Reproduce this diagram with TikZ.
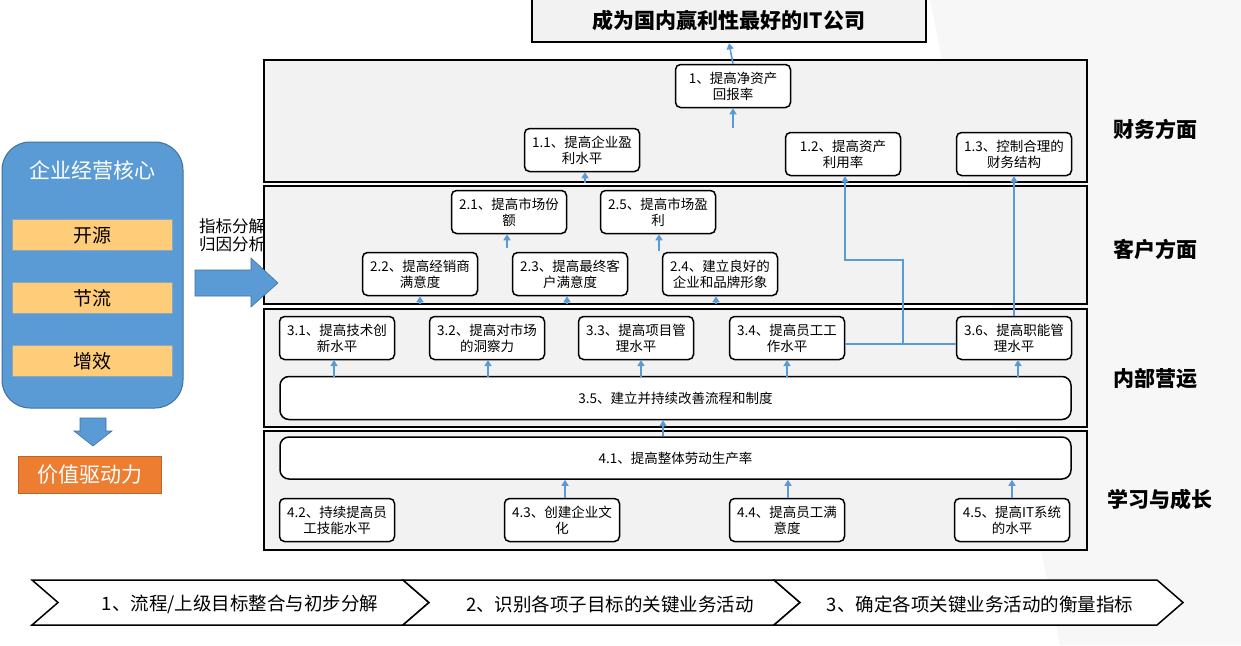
\documentclass[tikz,border=0pt]{standalone}
\usepackage{fontspec}
\setmainfont{Noto Sans CJK SC}
\usetikzlibrary{arrows.meta,calc}
\definecolor{panelgray}{HTML}{F2F2F2}
\definecolor{arrblue}{HTML}{5B9BD5}
\definecolor{coreblue}{HTML}{5B9BD5}
\definecolor{coreedge}{HTML}{41719C}
\definecolor{barorange}{HTML}{FFCC7A}
\definecolor{baredge}{HTML}{8FA6BF}
\definecolor{deeporange}{HTML}{ED7D31}
\definecolor{deepedge}{HTML}{C0652A}
\begin{document}
\begin{tikzpicture}[x=1pt,y=-1pt,
  panel/.style={draw=black,line width=2.5pt,fill=panelgray,inner sep=0pt},
  kbox/.style={draw=black,line width=1.5pt,rounded corners=5pt,fill=white,
    minimum width=115pt,minimum height=43pt,inner sep=1pt,align=center,
    font=\fontsize{13.5}{16}\selectfont},
  widebox/.style={draw=black,line width=1.5pt,rounded corners=9pt,fill=white,
    minimum width=791pt,minimum height=43pt,inner sep=0pt,
    font=\fontsize{13.5}{16}\selectfont},
  arr/.style={draw=arrblue,line width=1.6pt,-{Triangle[length=6pt,width=7pt]}},
  conn/.style={draw=arrblue,line width=1.6pt},
  sidelabel/.style={font=\fontsize{21}{24}\selectfont\bfseries},
  bar/.style={draw=baredge,line width=1pt,fill=barorange,minimum width=160pt,
    minimum height=31pt,font=\fontsize{19}{22}\selectfont},
  chev/.style={draw=black,line width=1.5pt,fill=white},
  chevtext/.style={font=\fontsize{18.5}{21}\selectfont}
]
\useasboundingbox (0,0) rectangle (1241,645);
\fill[white] (0,0) rectangle (1241,645);
\fill[gray!6] (930,0) -- (1241,0) -- (1241,645) -- (1060,645) -- cycle;

% ---- left side ----
\node[align=left,font=\fontsize{16.5}{18}\selectfont,anchor=north west,inner sep=0pt] (ana) at (199,218) {指标分解\\归因分析};

\node[draw=coreedge,line width=1pt,fill=coreblue,rounded corners=28pt,
  minimum width=181pt,minimum height=266pt] (core) at (92.5,275) {};
\node[text=white,font=\fontsize{21}{24}\selectfont] (coret) at (92,170) {企业经营核心};
\node[bar] (b1) at (92,235) {开源};
\node[bar] (b2) at (92,298) {节流};
\node[bar] (b3) at (92,361) {增效};
\node[draw=deepedge,line width=1pt,fill=deeporange,minimum width=143pt,minimum height=37pt,
  text=white,font=\fontsize{21}{24}\selectfont] (vd) at (90,475) {价值驱动力};
\fill[coreblue,draw=coreedge,line width=0.6pt] (80,418) -- (106,418) -- (106,431) -- (112,431) -- (93,446) -- (74,431) -- (80,431) -- cycle;

% ---- panels ----
\node[panel,minimum width=823pt,minimum height=122pt] (pfin) at (675.5,121) {};
\node[panel,minimum width=823pt,minimum height=118pt] (pcus) at (675.5,245) {};
\node[panel,minimum width=823pt,minimum height=118pt] (pint) at (675.5,368) {};
\node[panel,minimum width=823pt,minimum height=119pt] (plrn) at (675.5,490.5) {};

% block arrow right
\fill[coreblue,draw=coreedge,line width=0.6pt] (195,270) -- (251,270) -- (251,258) -- (278,283) -- (251,307) -- (251,296) -- (195,296) -- cycle;

% ---- title ----
\node[draw=black,line width=2.5pt,fill=panelgray,minimum width=394pt,minimum height=44pt,
  font=\fontsize{21}{24}\selectfont\bfseries] (goal) at (729,20) {成为国内赢利性最好的IT公司};

% ---- finance ----
\node[kbox] (n1) at (733,86) {1、提高净资产\\回报率};
\node[kbox] (n11) at (582,150) {1.1、提高企业盈\\利水平};
\node[kbox] (n12) at (843,154) {1.2、提高资产\\利用率};
\node[kbox] (n13) at (1014,154) {1.3、控制合理的\\财务结构};

% ---- customer ----
\node[kbox] (n21) at (509,212) {2.1、提高市场份\\额};
\node[kbox] (n25) at (658,212) {2.5、提高市场盈\\利};
\node[kbox] (n22) at (420,274) {2.2、提高经销商\\满意度};
\node[kbox] (n23) at (570,274) {2.3、提高最终客\\户满意度};
\node[kbox] (n24) at (720,274) {2.4、建立良好的\\企业和品牌形象};

% ---- internal ----
\node[kbox] (n31) at (337,338) {3.1、提高技术创\\新水平};
\node[kbox] (n32) at (487,338) {3.2、提高对市场\\的洞察力};
\node[kbox] (n33) at (636,338) {3.3、提高项目管\\理水平};
\node[kbox] (n34) at (787,338) {3.4、提高员工工\\作水平};
\node[kbox] (n36) at (1014,338) {3.6、提高职能管\\理水平};
\node[widebox] (n35) at (675.5,398) {3.5、建立并持续改善流程和制度};

% ---- learning ----
\node[widebox,minimum height=42pt] (n41) at (675.5,458) {4.1、提高整体劳动生产率};
\node[kbox] (n42) at (337,520) {4.2、持续提高员\\工技能水平};
\node[kbox] (n43) at (562,520) {4.3、创建企业文\\化};
\node[kbox] (n44) at (787,520) {4.4、提高员工满\\意度};
\node[kbox] (n45) at (1012,520) {4.5、提高IT系统\\的水平};

% ---- side labels ----
\node[sidelabel] (lf) at (1155,129) {财务方面};
\node[sidelabel] (lc) at (1155,249) {客户方面};
\node[sidelabel] (li) at (1155,379) {内部营运};
\node[sidelabel] (ll) at (1160,499) {学习与成长};

% ---- connectors ----
\draw[arr] (n1.north) -- (goal.south);
\coordinate (f1) at (733,128);
\draw[arr] (f1) -- (f1|-n1.south);
\coordinate (f11) at (585,183);
\draw[arr] (f11) -- (f11|-n11.south);
\coordinate (f21) at (507,248);
\draw[arr] (f21) -- (f21|-n21.south);
\coordinate (f25) at (659,251);
\draw[arr] (f25) -- (f25|-n25.south);
\coordinate (f22) at (420,304);
\draw[arr] (f22) -- (f22|-n22.south);
\coordinate (f23) at (567,304);
\draw[arr] (f23) -- (f23|-n23.south);
\coordinate (f24) at (716,304);
\draw[arr] (f24) -- (f24|-n24.south);

% 3.4 / 3.6 to 1.2, 3.6 to 1.3
\coordinate (j) at (903,344);
\coordinate (k) at (903,260);
\draw[conn] (n34.east|-j) -- (n36.west|-j);
\draw[arr] (j) -- (k) -| ($(n12.south)+(2,0)$);
\draw[arr] (n36.north) -- (n13.south);

% 3.5 to internal boxes
\foreach \n/\x in {n31/334,n32/488,n33/641,n34/787,n36/1018}{
  \draw[arr] (\x,377) -- (\x,360);
}
\draw[arr] (n41.north-|663,0) -- (n35.south-|663,0);
\draw[arr] (n43.north-|565,0) -- (n41.south-|565,0);
\draw[arr] (n44.north-|788,0) -- (n41.south-|788,0);
\draw[arr] (n45.north-|1012,0) -- (n41.south-|1012,0);

% ---- chevrons ----
\draw[chev] (32,580) -- (403,580) -- (429,602.5) -- (403,625) -- (32,625) -- (58,602.5) -- cycle;
\draw[chev] (403,580) -- (774,580) -- (800,602.5) -- (774,625) -- (403,625) -- (429,602.5) -- cycle;
\draw[chev] (774,580) -- (1157,580) -- (1183,602.5) -- (1157,625) -- (774,625) -- (800,602.5) -- cycle;
\node[chevtext] (c1) at (240,604) {1、流程/上级目标整合与初步分解};
\node[chevtext] (c2) at (610,604) {2、识别各项子目标的关键业务活动};
\node[chevtext] (c3) at (980,604) {3、确定各项关键业务活动的衡量指标};
\end{tikzpicture}
\end{document}
